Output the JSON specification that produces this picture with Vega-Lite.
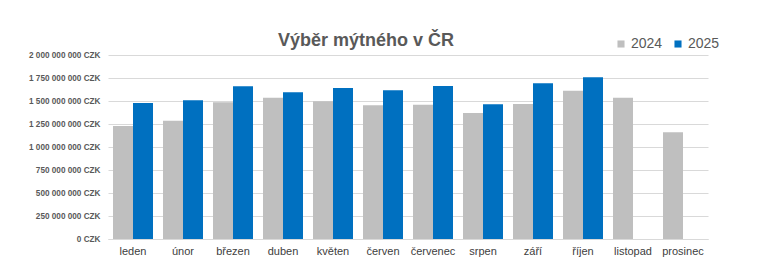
{
  "$schema": "https://vega.github.io/schema/vega-lite/v6.json",
  "width": 600,
  "height": 184,
  "autosize": {"type": "none"},
  "padding": {"left": 108, "top": 55, "right": 54, "bottom": 40},
  "background": "white",
  "title": {
    "text": "Výběr mýtného v ČR",
    "fontSize": 18,
    "fontWeight": "bold",
    "color": "#595959",
    "font": "Liberation Sans",
    "anchor": "middle",
    "dx": -42,
    "dy": 25,
    "offset": 12
  },
  "data": {
    "values": [
      {"mesic": "leden", "rok": "2024", "vyber": 1228000000},
      {"mesic": "leden", "rok": "2025", "vyber": 1478000000},
      {"mesic": "únor", "rok": "2024", "vyber": 1286000000},
      {"mesic": "únor", "rok": "2025", "vyber": 1507000000},
      {"mesic": "březen", "rok": "2024", "vyber": 1486000000},
      {"mesic": "březen", "rok": "2025", "vyber": 1659000000},
      {"mesic": "duben", "rok": "2024", "vyber": 1536000000},
      {"mesic": "duben", "rok": "2025", "vyber": 1594000000},
      {"mesic": "květen", "rok": "2024", "vyber": 1496000000},
      {"mesic": "květen", "rok": "2025", "vyber": 1641000000},
      {"mesic": "červen", "rok": "2024", "vyber": 1453000000},
      {"mesic": "červen", "rok": "2025", "vyber": 1616000000},
      {"mesic": "červenec", "rok": "2024", "vyber": 1460000000},
      {"mesic": "červenec", "rok": "2025", "vyber": 1663000000},
      {"mesic": "srpen", "rok": "2024", "vyber": 1370000000},
      {"mesic": "srpen", "rok": "2025", "vyber": 1464000000},
      {"mesic": "září", "rok": "2024", "vyber": 1467000000},
      {"mesic": "září", "rok": "2025", "vyber": 1692000000},
      {"mesic": "říjen", "rok": "2024", "vyber": 1612000000},
      {"mesic": "říjen", "rok": "2025", "vyber": 1757000000},
      {"mesic": "listopad", "rok": "2024", "vyber": 1536000000},
      {"mesic": "prosinec", "rok": "2024", "vyber": 1160000000}
    ]
  },
  "mark": {"type": "bar"},
  "encoding": {
    "x": {
      "field": "mesic",
      "type": "nominal",
      "sort": ["leden", "únor", "březen", "duben", "květen", "červen", "červenec", "srpen", "září", "říjen", "listopad", "prosinec"],
      "scale": {"paddingInner": 0.2, "paddingOuter": 0.1},
      "axis": {
        "title": null,
        "labelAngle": 0,
        "labelFontSize": 11,
        "labelFontWeight": "normal",
        "labelColor": "#404040",
        "labelFont": "Liberation Sans",
        "labelPadding": 6,
        "ticks": false,
        "domainColor": "#D9D9D9",
        "grid": false
      }
    },
    "xOffset": {"field": "rok", "type": "nominal", "scale": {"domain": ["2024", "2025"], "paddingInner": 0, "paddingOuter": 0}},
    "y": {
      "field": "vyber",
      "type": "quantitative",
      "scale": {"domain": [0, 2000000000]},
      "axis": {
        "title": null,
        "values": [0, 250000000, 500000000, 750000000, 1000000000, 1250000000, 1500000000, 1750000000, 2000000000],
        "labelExpr": "replace(format(datum.value, ','), regexp(',', 'g'), ' ') + ' CZK'",
        "labelFontSize": 8.2,
        "labelFontWeight": "bold",
        "labelColor": "#595959",
        "labelFont": "Liberation Sans",
        "labelPadding": 8,
        "ticks": false,
        "domain": false,
        "gridColor": "#D9D9D9",
        "gridWidth": 1
      }
    },
    "color": {
      "field": "rok",
      "type": "nominal",
      "scale": {"domain": ["2024", "2025"], "range": ["#BFBFBF", "#0070C0"]},
      "legend": {
        "title": null,
        "orient": "none",
        "direction": "horizontal",
        "legendX": 506,
        "legendY": -18,
        "symbolType": "square",
        "symbolSize": 50,
        "symbolStrokeWidth": 0,
        "labelFontSize": 14,
        "labelColor": "#595959",
        "labelFont": "Liberation Sans",
        "labelOffset": 3,
        "columnPadding": 8
      }
    }
  },
  "config": {
    "view": {"stroke": null}
  }
}
